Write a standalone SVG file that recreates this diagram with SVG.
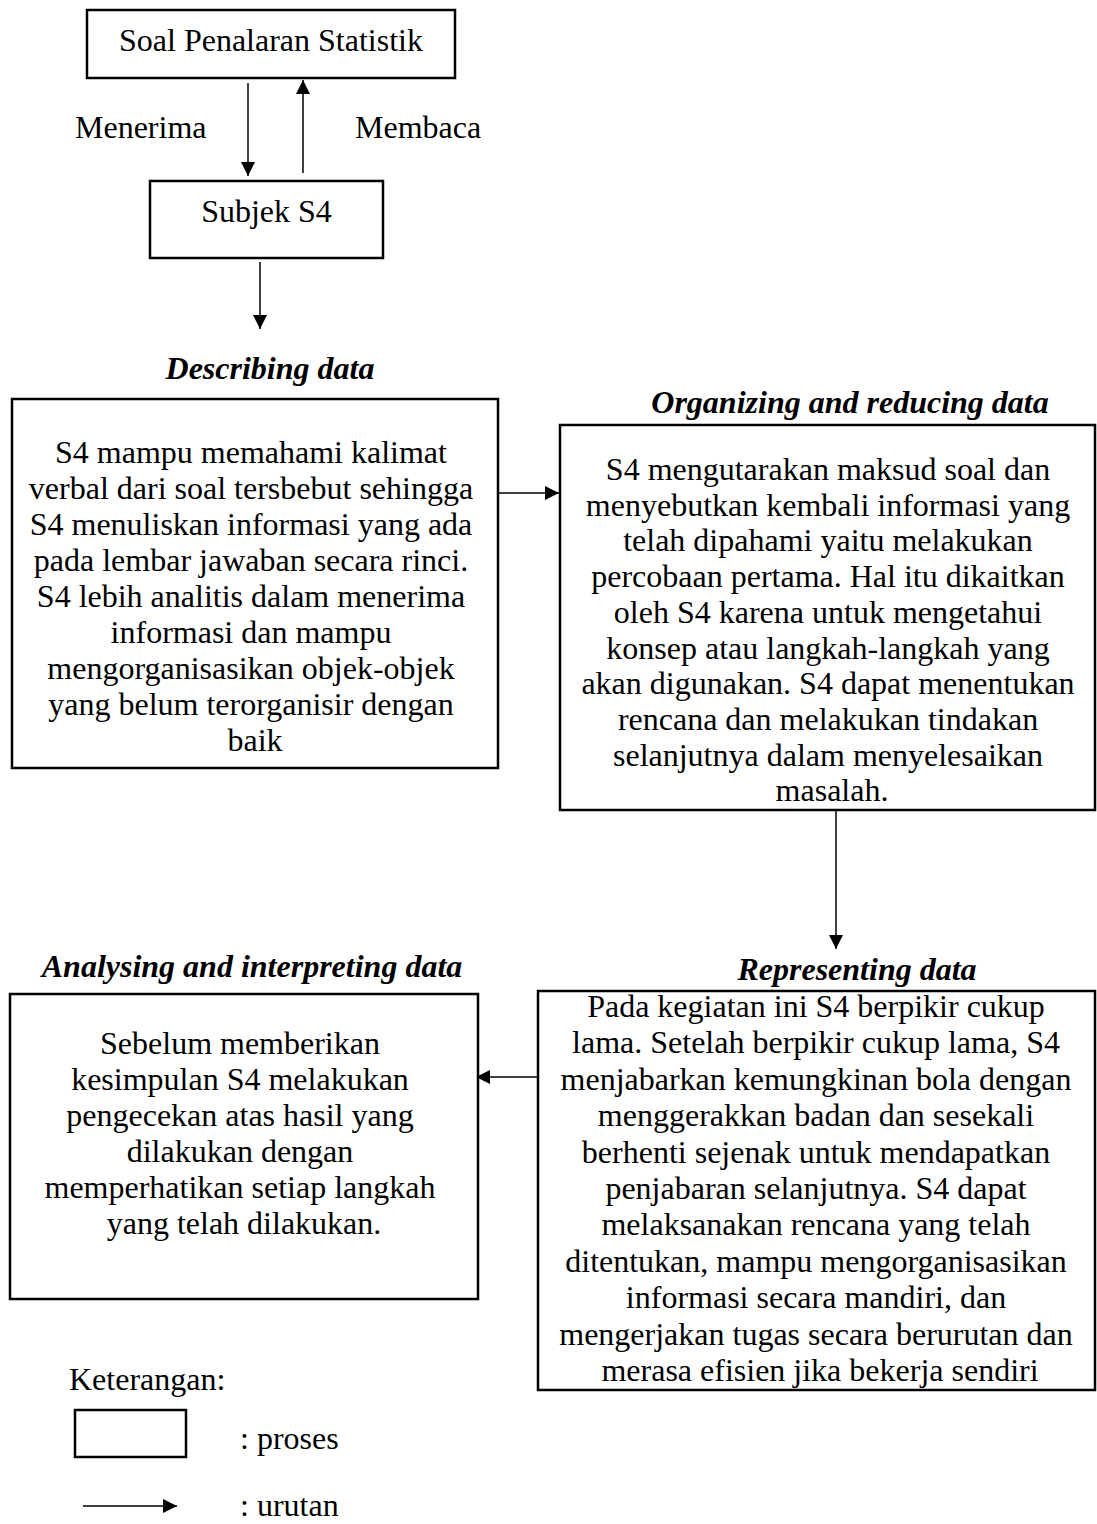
<svg xmlns="http://www.w3.org/2000/svg" width="1097" height="1524" viewBox="0 0 1097 1524">
  <style>
    .box { fill: #fff; stroke: #000; stroke-width: 2.5; }
    .txt { font-family: "Liberation Serif", "Times New Roman", serif; font-size: 32px; fill: #000; }
    .mid { text-anchor: middle; }
    .head { font-family: "Liberation Serif", "Times New Roman", serif; font-size: 32px; font-weight: bold; font-style: italic; fill: #000; text-anchor: middle; }
    .conn { stroke: #000; stroke-width: 1.5; fill: none; marker-end: url(#tip); }
  </style>
  <defs>
    <marker id="tip" markerUnits="userSpaceOnUse" markerWidth="15" markerHeight="15" refX="14" refY="7" orient="auto">
      <path d="M0,0 L14,7 L0,14 z" fill="#000"/>
    </marker>
  </defs>

  <rect width="1097" height="1524" fill="#fff"/>

  <!-- connectors -->
  <g id="connectors">
    <line class="conn" x1="248" y1="83" x2="248" y2="176"/>
    <line class="conn" x1="303" y1="173" x2="303" y2="80"/>
    <line class="conn" x1="260" y1="262" x2="260" y2="329"/>
    <line class="conn" x1="498" y1="493" x2="559" y2="493"/>
    <line class="conn" x1="836" y1="810" x2="836" y2="949"/>
    <line class="conn" x1="538" y1="1077" x2="476" y2="1077"/>
    <text class="txt" x="75" y="138">Menerima</text>
    <text class="txt" x="355" y="138">Membaca</text>
  </g>

  <g id="soal">
    <rect class="box" x="87" y="10" width="368" height="68"/>
    <text class="txt mid" x="271" y="51">Soal Penalaran Statistik</text>
  </g>

  <g id="subjek">
    <rect class="box" x="150" y="181" width="233" height="77"/>
    <text class="txt mid" x="266.5" y="222">Subjek S4</text>
  </g>

  <g id="describing">
    <text class="head" x="270" y="379">Describing data</text>
    <rect class="box" x="12" y="399" width="486" height="369"/>
    <text class="txt mid" x="255" y="463">
      <tspan x="255" dy="0">S4 mampu memahami kalimat</tspan>
      <tspan x="255" dy="36">verbal dari soal tersbebut sehingga</tspan>
      <tspan x="255" dy="36">S4 menuliskan informasi yang ada</tspan>
      <tspan x="255" dy="36">pada lembar jawaban secara rinci.</tspan>
      <tspan x="255" dy="36">S4 lebih analitis dalam menerima</tspan>
      <tspan x="255" dy="36">informasi dan mampu</tspan>
      <tspan x="255" dy="36">mengorganisasikan objek-objek</tspan>
      <tspan x="255" dy="36">yang belum terorganisir dengan</tspan>
      <tspan x="255" dy="36">baik</tspan>
    </text>
  </g>

  <g id="organizing">
    <text class="head" x="850" y="413">Organizing and reducing data</text>
    <rect class="box" x="560" y="425" width="535" height="385"/>
    <text class="txt mid" x="832" y="480">
      <tspan x="832" dy="0">S4 mengutarakan maksud soal dan</tspan>
      <tspan x="832" dy="35.7">menyebutkan kembali informasi yang</tspan>
      <tspan x="832" dy="35.7">telah dipahami yaitu melakukan</tspan>
      <tspan x="832" dy="35.7">percobaan pertama. Hal itu dikaitkan</tspan>
      <tspan x="832" dy="35.7">oleh S4 karena untuk mengetahui</tspan>
      <tspan x="832" dy="35.7">konsep atau langkah-langkah yang</tspan>
      <tspan x="832" dy="35.7">akan digunakan. S4 dapat menentukan</tspan>
      <tspan x="832" dy="35.7">rencana dan melakukan tindakan</tspan>
      <tspan x="832" dy="35.7">selanjutnya dalam menyelesaikan</tspan>
      <tspan x="832" dy="35.7">masalah.</tspan>
    </text>
  </g>

  <g id="representing">
    <text class="head" x="857" y="980">Representing data</text>
    <rect class="box" x="538" y="991" width="557" height="399"/>
    <text class="txt mid" x="820" y="1017">
      <tspan x="820" dy="0">Pada kegiatan ini S4 berpikir cukup</tspan>
      <tspan x="820" dy="36.4">lama. Setelah berpikir cukup lama, S4</tspan>
      <tspan x="820" dy="36.4">menjabarkan kemungkinan bola dengan</tspan>
      <tspan x="820" dy="36.4">menggerakkan badan dan sesekali</tspan>
      <tspan x="820" dy="36.4">berhenti sejenak untuk mendapatkan</tspan>
      <tspan x="820" dy="36.4">penjabaran selanjutnya. S4 dapat</tspan>
      <tspan x="820" dy="36.4">melaksanakan rencana yang telah</tspan>
      <tspan x="820" dy="36.4">ditentukan, mampu mengorganisasikan</tspan>
      <tspan x="820" dy="36.4">informasi secara mandiri, dan</tspan>
      <tspan x="820" dy="36.4">mengerjakan tugas secara berurutan dan</tspan>
      <tspan x="820" dy="36.4">merasa efisien jika bekerja sendiri</tspan>
    </text>
  </g>

  <g id="analysing">
    <text class="head" x="252" y="977">Analysing and interpreting data</text>
    <rect class="box" x="10" y="994" width="468" height="305"/>
    <text class="txt mid" x="244" y="1054">
      <tspan x="244" dy="0">Sebelum memberikan</tspan>
      <tspan x="244" dy="36">kesimpulan S4 melakukan</tspan>
      <tspan x="244" dy="36">pengecekan atas hasil yang</tspan>
      <tspan x="244" dy="36">dilakukan dengan</tspan>
      <tspan x="244" dy="36">memperhatikan setiap langkah</tspan>
      <tspan x="244" dy="36">yang telah dilakukan.</tspan>
    </text>
  </g>

  <!-- legend -->
  <g id="legend">
    <text class="txt" x="69" y="1390">Keterangan:</text>
    <rect class="box" x="75" y="1410" width="111" height="47"/>
    <text class="txt" x="240" y="1449">: proses</text>
    <line class="conn" x1="83" y1="1506" x2="177" y2="1506"/>
    <text class="txt" x="240" y="1516">: urutan</text>
  </g>
</svg>
